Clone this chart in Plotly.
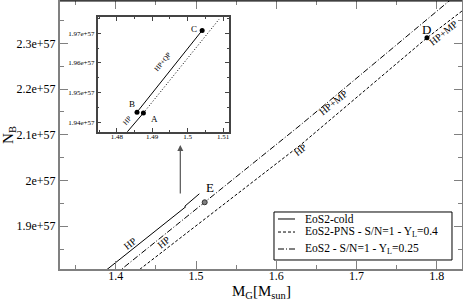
import plotly.graph_objects as go

# ---------------- data (N_B in units of 1e57) ----------------
cold_hp_mg = [1.380, 1.4875]
cold_hp_nb = [1.793, 1.9431]
cold_qp_mg = [1.4857, 1.5041]
cold_qp_nb = [1.9434, 1.9710]
cold_dot_mg = [1.4875, 1.5089]
cold_dot_nb = [1.9431, 1.9748]

pns_mg = [1.420, 1.6304, 1.7879, 1.840]
pns_nb = [1.7925, 2.078, 2.312, 2.382]

yl25_mg = [1.400, 1.5108, 1.6304, 1.8137, 1.830]
yl25_nb = [1.796, 1.9525, 2.1217, 2.390, 2.414]

pt_A = (1.4875, 1.9431)
pt_B = (1.4857, 1.9434)
pt_C = (1.5041, 1.9710)
pt_D = (1.7879, 2.3123)
pt_E = (1.5108, 1.9525)

legend_names = ["EoS2-cold",
                "EoS2-PNS - S/N=1 - Y<sub>L</sub>=0.4",
                "EoS2 - S/N=1 - Y<sub>L</sub>=0.25"]

x_ticks = [1.4, 1.5, 1.6, 1.7, 1.8]
y_ticks = [1.9, 2.0, 2.1, 2.2, 2.3]
y_ticktext = ["1.9e+57", "2e+57", "2.1e+57", "2.2e+57", "2.3e+57"]
ix_ticks = [1.48, 1.49, 1.50, 1.51]
ix_ticktext = ["1.48", "1.49", "1.5", "1.51"]
iy_ticks = [1.94, 1.95, 1.96, 1.97]
iy_ticktext = ["1.94e+57", "1.95e+57", "1.96e+57", "1.97e+57"]

E57 = 1e57
def s(v):
    return [x * E57 for x in v]

FONT = "Liberation Serif"
GRAY = "#808080"
DASH = "3px,2px"
DASHDOT = "6px,2px,1px,2px"
styles = ["solid", DASH, DASHDOT]

fig = go.Figure()

# main plot traces
fig.add_trace(go.Scatter(x=cold_hp_mg, y=s(cold_hp_nb), mode="lines",
                         line=dict(color="black", width=1), name=legend_names[0], showlegend=False))
fig.add_trace(go.Scatter(x=cold_qp_mg, y=s(cold_qp_nb), mode="lines",
                         line=dict(color="black", width=1), showlegend=False))
fig.add_trace(go.Scatter(x=pns_mg, y=s(pns_nb), mode="lines",
                         line=dict(color="black", width=1, dash=DASH),
                         name=legend_names[1], showlegend=False))
fig.add_trace(go.Scatter(x=yl25_mg, y=s(yl25_nb), mode="lines",
                         line=dict(color="black", width=1, dash=DASHDOT),
                         name=legend_names[2], showlegend=False))
fig.add_trace(go.Scatter(x=[pt_D[0]], y=[pt_D[1] * E57], mode="markers",
                         marker=dict(color="black", size=5), showlegend=False))
fig.add_trace(go.Scatter(x=[pt_E[0]], y=[pt_E[1] * E57], mode="markers",
                         marker=dict(color="#808080", size=5, line=dict(color="#333", width=1)),
                         showlegend=False))

# inset traces
fig.add_trace(go.Scatter(x=cold_hp_mg, y=s(cold_hp_nb), mode="lines", xaxis="x2", yaxis="y2",
                         line=dict(color="black", width=1), showlegend=False))
fig.add_trace(go.Scatter(x=cold_qp_mg, y=s(cold_qp_nb), mode="lines", xaxis="x2", yaxis="y2",
                         line=dict(color="black", width=1), showlegend=False))
fig.add_trace(go.Scatter(x=cold_dot_mg, y=s(cold_dot_nb), mode="lines", xaxis="x2", yaxis="y2",
                         line=dict(color="black", width=1, dash="1px,2px"), showlegend=False))
fig.add_trace(go.Scatter(x=[pt_A[0], pt_B[0], pt_C[0]], y=s([pt_A[1], pt_B[1], pt_C[1]]),
                         mode="markers", xaxis="x2", yaxis="y2",
                         marker=dict(color="black", size=5), showlegend=False))

ann = []
def lab(x, y, t, ang=0, size=11, xr="x", yr="y"):
    ann.append(dict(x=x, y=y * E57, xref=xr, yref=yr, text=t, showarrow=False,
                    textangle=ang, font=dict(family=FONT, size=size, color="black")))

lab(1.4179, 1.8613, "HP", -39, 10)
lab(1.4591, 1.8656, "HP", -39, 10)
lab(1.6304, 2.0670, "HP", -39, 10)
lab(1.6716, 2.1699, "HP+MP", -39, 10)
lab(1.8091, 2.3230, "HP+MP", -39, 10)
lab(1.7879, 2.3300, "D", 0, 13)
lab(1.5170, 1.9845, "E", 0, 13)
lab(1.4829, 1.9404, "HP", -49, 7, "x2", "y2")
lab(1.4930, 1.9603, "HP+QP", -51, 7, "x2", "y2")
lab(1.4905, 1.9410, "A", 0, 9, "x2", "y2")
lab(1.4842, 1.9462, "B", 0, 9, "x2", "y2")
lab(1.5019, 1.9713, "C", 0, 9, "x2", "y2")

# x-axis title as annotation (placed like the reference)
ann.append(dict(x=0.5, y=-0.086, xref="paper", yref="paper", showarrow=False,
                yanchor="middle", xanchor="center",
                text="M<sub>G</sub>[M<sub>sun</sub>]",
                font=dict(family=FONT, size=15, color="black")))

# arrow below inset
ann.append(dict(x=1.4804, y=2.0779 * E57, xref="x", yref="y", ax=0, ay=50,
                axref="pixel", ayref="pixel", showarrow=True, arrowhead=2,
                arrowsize=1, arrowwidth=1.2, arrowcolor="#555", text=""))

# hand-drawn compact legend (paper coordinates)
shapes = [dict(type="line", xref="paper", yref="paper", x0=0, x1=1, y0=1, y1=1,
               line=dict(color="black", width=1)),
          dict(type="rect", xref="paper", yref="paper", x0=0.5323, x1=0.9751,
               y0=0.0336, y1=0.2127, fillcolor="white", line=dict(color="black", width=1))]
row_y = [0.1866, 0.1380, 0.0746]
for name, st, ry in zip(legend_names, styles, row_y):
    shapes.append(dict(type="line", xref="paper", yref="paper", x0=0.5423, x1=0.5846,
                       y0=ry, y1=ry, line=dict(color="black", width=1, dash=st)))
    ann.append(dict(x=0.6045, y=ry, xref="paper", yref="paper", showarrow=False,
                    xanchor="left", yanchor="middle", text=name,
                    font=dict(family=FONT, size=11.5, color="black")))

fig.update_layout(
    width=463, height=300,
    margin=dict(l=60, r=1, t=1, b=31, autoexpand=False),
    paper_bgcolor="white", plot_bgcolor="white",
    font=dict(family=FONT, size=12, color="black"),
    showlegend=False,
    xaxis=dict(range=[1.3304, 1.8316], tickvals=x_ticks, ticks="inside", ticklen=8,
               tickcolor=GRAY, tickwidth=1, showline=True, linecolor=GRAY, linewidth=2,
               mirror="ticks", showgrid=False, zeroline=False, automargin=False,
               ticklabelstandoff=-5,
               minor=dict(dtick=0.05, ticks="inside", ticklen=4, tickcolor=GRAY, showgrid=False),
               tickfont=dict(family=FONT, size=12)),
    yaxis=dict(range=[1.8066 * E57, 2.3926 * E57], tickvals=s(y_ticks), ticktext=y_ticktext,
               ticks="inside", ticklen=8, tickcolor=GRAY, tickwidth=1,
               showline=True, linecolor=GRAY, linewidth=2, mirror="ticks",
               showgrid=False, zeroline=False, automargin=False,
               minor=dict(dtick=0.05 * E57, tick0=0, ticks="inside", ticklen=4, tickcolor=GRAY, showgrid=False),
               title=dict(text="N<sub>B</sub>", font=dict(family=FONT, size=15)),
               tickfont=dict(family=FONT, size=12)),
    xaxis2=dict(domain=[0.0938, 0.4197], anchor="y2", range=[1.4746, 1.5116],
                tickvals=ix_ticks, ticktext=ix_ticktext, ticks="inside", ticklen=4,
                tickcolor="#444", showline=True, linecolor="#444", linewidth=1.5,
                mirror="ticks", showgrid=False, zeroline=False, automargin=False,
                ticklabelstandoff=-3,
                minor=dict(dtick=0.005, ticks="inside", ticklen=2, tickcolor="#444", showgrid=False),
                tickfont=dict(family=FONT, size=7)),
    yaxis2=dict(domain=[0.5123, 0.939], anchor="x2", range=[1.9368 * E57, 1.9754 * E57],
                tickvals=s(iy_ticks), ticktext=iy_ticktext, ticks="inside", ticklen=4,
                tickcolor="#444", showline=True, linecolor="#444", linewidth=1.5,
                mirror="ticks", showgrid=False, zeroline=False, automargin=False,
                minor=dict(dtick=0.005 * E57, tick0=0, ticks="inside", ticklen=2, tickcolor="#444", showgrid=False),
                tickfont=dict(family=FONT, size=7)),
    annotations=ann,
    shapes=shapes,
)

fig.write_html("out.html", config={"displayModeBar": False},
               post_script="document.body.style.margin='0';")
